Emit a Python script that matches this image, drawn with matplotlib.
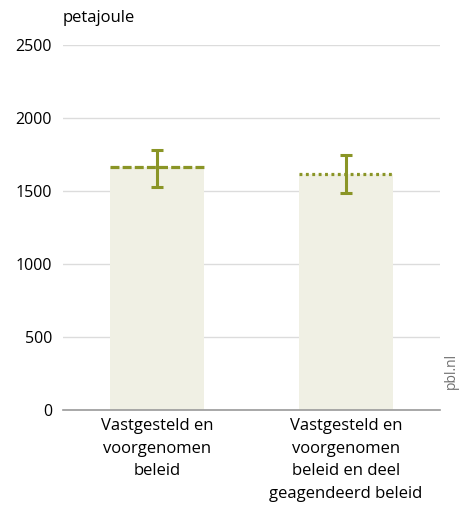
import matplotlib.pyplot as plt
import numpy as np

categories = ["Vastgesteld en\nvoorgenomen\nbeleid",
              "Vastgesteld en\nvoorgenomen\nbeleid en deel\ngeagendeerd beleid"]
values = [1665, 1620]
err_low = [1525, 1490]
err_high = [1780, 1750]
line_styles = [(0, (2.8, 1.0)), (0, (0.9, 1.1))]

plt.rcParams['font.family'] = ['Open Sans', 'DejaVu Sans']
olive = "#8a9526"

fig = plt.figure(figsize=(4.6, 5.08), dpi=100)
ax = fig.add_axes([0.137, 0.193, 0.82, 0.718])

x = np.arange(len(categories))
w = 0.5
ax.bar(x, values, width=w, color="#f0f0e4", zorder=2)
for xi, v, lo, hi, ls in zip(x, values, err_low, err_high, line_styles):
    ax.plot([xi - w / 2, xi + w / 2], [v, v], color=olive, lw=2.3,
            linestyle=ls, solid_capstyle="butt", zorder=3)
    ax.errorbar(xi, v, yerr=[[v - lo], [hi - v]], fmt="none", ecolor=olive,
                elinewidth=2.2, capsize=4, capthick=2.2, zorder=4)

ax.set_xlim(-0.5, 1.5)
ax.set_ylim(0, 2500)
ax.set_yticks(range(0, 2501, 500))
ax.set_xticks(x)
ax.set_xticklabels(categories, fontsize=12, linespacing=1.55)
ax.tick_params(axis="y", length=0, pad=8, labelsize=11.5)
ax.tick_params(axis="x", length=0, pad=6)
ax.grid(axis="y", color="#dcdcdc", lw=1, zorder=0)
for s in ["top", "right", "left"]:
    ax.spines[s].set_visible(False)
ax.spines["bottom"].set_color("#9a9a9a")
ax.spines["bottom"].set_linewidth(1.2)
ax.spines["bottom"].set_zorder(5)

fig.text(0.137, 0.965, "petajoule", fontsize=12, va="center", ha="left")
fig.text(0.982, 0.27, "pbl.nl", fontsize=10, color="#707070", rotation=90,
         va="center", ha="center")

fig.savefig("out.png", dpi=100)
